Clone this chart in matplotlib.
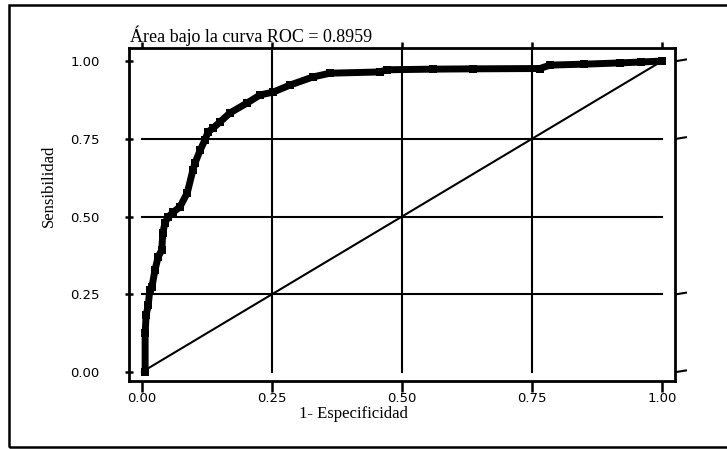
import matplotlib
matplotlib.use("Agg")
import matplotlib.pyplot as plt
from matplotlib.patches import Rectangle

# ROC curve: 1-specificity vs sensitivity
fpr = [0.006, 0.006, 0.008, 0.012, 0.015, 0.019, 0.025, 0.031, 0.038, 0.040,
       0.044, 0.050, 0.060, 0.073, 0.087, 0.098, 0.102, 0.112, 0.121, 0.127,
       0.137, 0.150, 0.169, 0.202, 0.227, 0.252, 0.285, 0.329, 0.362, 0.458,
       0.471, 0.560, 0.637, 0.765, 0.785, 0.850, 0.919, 0.960, 1.000]
tpr = [0.000, 0.125, 0.183, 0.215, 0.264, 0.273, 0.328, 0.370, 0.392, 0.447,
       0.479, 0.498, 0.514, 0.531, 0.576, 0.650, 0.672, 0.714, 0.746, 0.772,
       0.785, 0.804, 0.833, 0.865, 0.891, 0.900, 0.923, 0.949, 0.961, 0.965,
       0.972, 0.974, 0.975, 0.976, 0.987, 0.990, 0.994, 0.997, 1.000]
ticks = [0, 0.25, 0.5, 0.75, 1.0]
tick_labels = ["0.00", "0.25", "0.50", "0.75", "1.00"]
grid_at = [0.25, 0.5, 0.75]
auc = 0.8959

W, H = 727, 449
fig = plt.figure(figsize=(W / 100, H / 100), dpi=100)
serif = ["Liberation Serif", "DejaVu Serif"]

# outer frame
fig.patches.append(Rectangle((9 / W, 1 - 447 / H), (730 - 9) / W, (447 - 5) / H,
                             transform=fig.transFigure, fill=False, lw=1.8,
                             edgecolor="black"))

ax = fig.add_axes([129 / W, 1 - 381 / H, (675 - 129) / W, (381 - 48) / H])
ax.set_xlim(-0.025, 1.025)
ax.set_ylim(-0.029, 1.042)

for g in grid_at:
    ax.plot([g, g], [0, 1.042], color="black", lw=1.5, clip_on=False)
    ax.plot([0, 1], [g, g], color="black", lw=1.5)

ax.plot([0, 1], [0, 1], color="black", lw=1.5)
ax.plot(fpr, tpr, color="black", lw=5, marker="s", ms=6, mew=0)

for s in ax.spines.values():
    s.set_linewidth(2)

ax.set_xticks(ticks)
ax.set_xticklabels(tick_labels)
ax.set_yticks(ticks)
ax.set_yticklabels(tick_labels)
ax.tick_params(axis="x", direction="out", length=8, width=1.8, pad=0,
               labelsize=9.5, top=True)
ax.tick_params(axis="y", direction="inout", length=6, width=1.8, pad=18,
               labelsize=9.5)
ax.xaxis.set_tick_params(labeltop=False)
for t in ax.xaxis.get_major_ticks():
    t.tick2line.set_markersize(4)

# short marks on the right side
for t in [0, 0.25, 0.75, 1.0]:
    ax.plot([1.028, 1.046], [t, t + 0.005], color="black", lw=1.5, clip_on=False)

fig.text(130 / W, 1 - 42 / H, "Área bajo la curva ROC = %.4f" % auc,
         family=serif, fontsize=13, ha="left", va="baseline")
fig.text(353 / W, 1 - 414 / H, "1- Especificidad", family=serif, fontsize=12,
         ha="center", va="center")
fig.text(49 / W, 1 - 186 / H, "Sensibilidad", family=serif, fontsize=12,
         ha="center", va="center", rotation=90)

fig.savefig("out.png", dpi=100)
